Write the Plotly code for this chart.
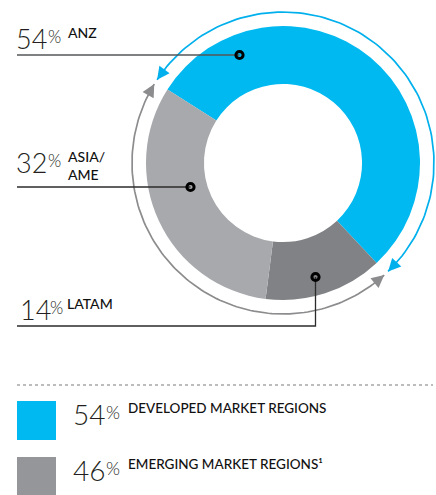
import math
import plotly.graph_objects as go

# ---- data ----
regions = ["ANZ", "LATAM", "ASIA/AME"]
region_values = [54, 14, 32]
region_colors = ["#00B9F0", "#808285", "#A7A9AC"]
label_pct = ["54", "32", "14"]
label_names = ["ANZ", "ASIA/<br>AME", "LATAM"]
market_groups = ["DEVELOPED MARKET REGIONS", "EMERGING MARKET REGIONS\u00b9"]
market_values = [54, 46]
market_colors = ["#00B9F0", "#949699"]

# ---- layout constants (pixels) ----
W, H = 436, 495
CX, CY, R_OUT = 283, 163, 137
HOLE = 0.577
ROT = -57.5
R_ARC = 151
FONT_L = "Lato Light, Lato"
FONT_R = "Lato"
TXT = "#231F20"

fig = go.Figure()

fig.add_trace(go.Pie(
    labels=regions, values=region_values, sort=False, direction="clockwise",
    rotation=ROT, hole=HOLE, textinfo="none", showlegend=False,
    marker=dict(colors=region_colors, line=dict(width=0)),
    domain=dict(x=[(CX - R_OUT) / W, (CX + R_OUT) / W],
                y=[1 - (CY + R_OUT) / H, 1 - (CY - R_OUT) / H]),
))


def pt(theta, r=R_ARC):
    t = math.radians(theta)
    return CX + r * math.sin(t), CY - r * math.cos(t)


total = sum(region_values)
dev_span = 360 * region_values[0] / total
GAP = 1.0
arcs = [
    (ROT + GAP, ROT + dev_span - GAP, "#00B0EC"),
    (ROT + dev_span + GAP, ROT + 360 - GAP, "#8C8C8E"),
]
annotations = []
for a0, a1, col in arcs:
    n = 120
    th = [a0 + (a1 - a0) * i / n for i in range(n + 1)]
    xs = [pt(t)[0] for t in th]
    ys = [pt(t)[1] for t in th]
    fig.add_trace(go.Scatter(x=xs, y=ys, mode="lines", line=dict(color=col, width=1.7),
                             hoverinfo="skip", showlegend=False))
    for tip, tail in [(a0, a0 + 5), (a1, a1 - 5)]:
        tx, ty = pt(tip)
        sx, sy = pt(tail)
        annotations.append(dict(x=tx, y=ty, ax=sx, ay=sy, xref="x", yref="y", axref="x", ayref="y",
                                text="", showarrow=True, arrowhead=2, arrowsize=1.4,
                                arrowwidth=1.8, arrowcolor=col, standoff=0))

shapes = []
# leader lines and dots
dots = [(239.5, 55), (190.5, 187), (315.5, 277)]
LC = "#2B2B2B"
shapes.append(dict(type="line", xref="x", yref="y", x0=17, y0=55, x1=dots[0][0], y1=55,
                   line=dict(color="#555657", width=1.3), layer="above"))
shapes.append(dict(type="line", xref="x", yref="y", x0=17, y0=187, x1=dots[1][0], y1=187,
                   line=dict(color=LC, width=1.3), layer="above"))
shapes.append(dict(type="path", xref="x", yref="y",
                   path=f"M17,326 L{dots[2][0]},326 L{dots[2][0]},{dots[2][1]}",
                   line=dict(color=LC, width=1.3), layer="above"))
for dx, dy in dots:
    r = 3.6
    shapes.append(dict(type="circle", xref="x", yref="y", x0=dx - r, x1=dx + r, y0=dy - r, y1=dy + r,
                       line=dict(color="#000000", width=3), fillcolor="rgba(0,0,0,0)", layer="above"))

# dotted separator
shapes.append(dict(type="line", xref="x", yref="y", x0=17, x1=433, y0=385, y1=385,
                   line=dict(color="#7A7A7A", width=1, dash="dot"), layer="above"))
# legend squares
sq_y = [401, 457]
for y0, col in zip(sq_y, market_colors):
    shapes.append(dict(type="rect", xref="x", yref="y", x0=17, x1=56, y0=y0, y1=y0 + 39,
                       fillcolor=col, line=dict(width=0), layer="above"))

# region labels
label_pos = [(15, 21, 47, 67), (15, 145, 47, 67), (19, 292, 49, 66)]
for (x, yt, px, nx), num, name in zip(label_pos, label_pct, label_names):
    annotations.append(dict(x=x, y=yt, xref="x", yref="y", xanchor="left", yanchor="top",
                            text=num, showarrow=False, borderpad=0,
                            font=dict(family=FONT_L, size=27, color=TXT, weight=300)))
    annotations.append(dict(x=px, y=yt + 4, xref="x", yref="y", xanchor="left", yanchor="top",
                            text="%", showarrow=False, borderpad=0,
                            font=dict(family=FONT_L, size=17, color=TXT, weight=300)))
    annotations.append(dict(x=nx, y=yt + 2, xref="x", yref="y", xanchor="left", yanchor="top",
                            text=name, showarrow=False, borderpad=0, align="left",
                            font=dict(family=FONT_R, size=14, color="#111111", weight=500)))

# legend labels
for y0, v, g in zip(sq_y, market_values, market_groups):
    annotations.append(dict(x=72, y=y0 - 5, xref="x", yref="y", xanchor="left", yanchor="top",
                            text=str(v), showarrow=False, borderpad=0,
                            font=dict(family=FONT_L, size=28, color=TXT, weight=300)))
    annotations.append(dict(x=105, y=y0 - 1, xref="x", yref="y", xanchor="left", yanchor="top",
                            text="%", showarrow=False, borderpad=0,
                            font=dict(family=FONT_L, size=18, color=TXT, weight=300)))
    annotations.append(dict(x=127, y=y0 - 2, xref="x", yref="y", xanchor="left", yanchor="top",
                            text=g, showarrow=False, borderpad=0,
                            font=dict(family=FONT_R, size=13.5, color="#111111", weight=500)))

fig.update_layout(
    width=W, height=H, margin=dict(l=0, r=0, t=0, b=0),
    paper_bgcolor="white", plot_bgcolor="rgba(0,0,0,0)",
    xaxis=dict(range=[0, W], visible=False, fixedrange=True),
    yaxis=dict(range=[H, 0], visible=False, fixedrange=True),
    shapes=shapes, annotations=annotations, showlegend=False,
)

fig.write_html("out.html", config={"displayModeBar": False},
               post_script="document.body.style.margin='0';document.body.style.overflow='hidden';")
